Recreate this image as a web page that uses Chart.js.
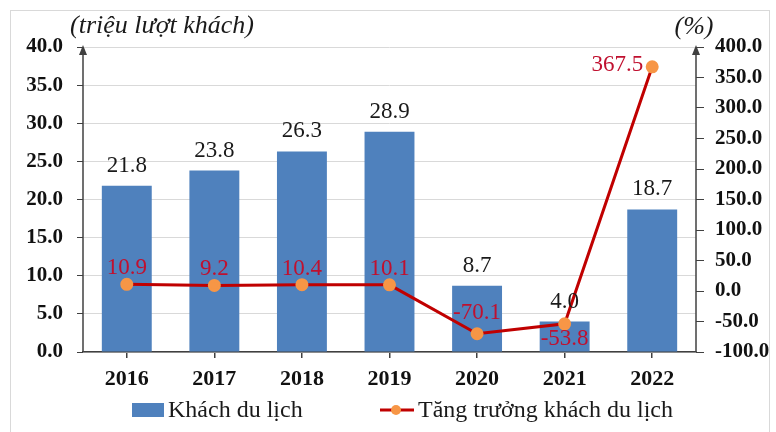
<!DOCTYPE html>
<html>
<head>
<meta charset="utf-8">
<script src="https://cdn.jsdelivr.net/npm/chart.js@4.4.1/dist/chart.umd.min.js"></script>
<style>
  body { margin: 0; background: #fff; }
  #wrap { position: relative; width: 776px; height: 432px; }
  #frame {
    position: absolute; left: 10px; top: 10px; width: 758px; height: 430px;
    border: 1px solid #d9d9d9;
  }
  canvas { position: absolute; left: 0; top: 0; }
</style>
</head>
<body>
<div id="wrap">
  <div id="frame"></div>
  <canvas id="touristChart" width="776" height="432"></canvas>
</div>
<script>
const years = ['2016', '2017', '2018', '2019', '2020', '2021', '2022'];
const visitors = [21.8, 23.8, 26.3, 28.9, 8.7, 4.0, 18.7];
const growth = [10.9, 9.2, 10.4, 10.1, -70.1, -53.8, 367.5];
// where each growth label sits relative to its point
const growthLabelSide = ['above', 'above', 'above', 'above', 'above', 'below', 'left'];

const FONT = "'Liberation Serif', 'Times New Roman', serif";
const BAR_COLOR = '#4f81bd';
const LINE_COLOR = '#c00000';
const POINT_COLOR = '#f79646';
const AXIS_COLOR = '#404040';

const valueLabels = {
  id: 'valueLabels',
  afterDatasetsDraw(chart) {
    const ctx = chart.ctx;
    ctx.save();
    ctx.font = '23px ' + FONT;
    ctx.textBaseline = 'alphabetic';

    // bar labels (dataset 1 = bars)
    ctx.fillStyle = '#1a1a1a';
    ctx.textAlign = 'center';
    chart.getDatasetMeta(1).data.forEach((bar, i) => {
      ctx.fillText(visitors[i].toFixed(1), bar.x, bar.y - 14);
    });

    // growth labels (dataset 0 = line)
    ctx.fillStyle = '#c0102f';
    chart.getDatasetMeta(0).data.forEach((pt, i) => {
      const txt = growth[i].toFixed(1);
      const side = growthLabelSide[i];
      if (side === 'left') {
        ctx.textAlign = 'right';
        ctx.fillText(txt, pt.x - 9, pt.y + 4);
      } else if (side === 'below') {
        ctx.textAlign = 'center';
        ctx.fillText(txt, pt.x, pt.y + 21);
      } else {
        ctx.textAlign = 'center';
        ctx.fillText(txt, pt.x, pt.y - (growth[i] < 0 ? 15 : 10));
      }
    });
    ctx.restore();
  }
};

// axis lines with arrow heads on both value axes
const axisArrows = {
  id: 'axisArrows',
  afterDraw(chart) {
    const ctx = chart.ctx;
    const a = chart.chartArea;
    ctx.save();
    ctx.strokeStyle = AXIS_COLOR;
    ctx.fillStyle = AXIS_COLOR;
    ctx.lineWidth = 1.5;
    [a.left, a.right].forEach(x => {
      ctx.beginPath();
      ctx.moveTo(x, a.bottom);
      ctx.lineTo(x, a.top + 2);
      ctx.stroke();
      ctx.beginPath();
      ctx.moveTo(x, a.top - 2);
      ctx.lineTo(x - 4, a.top + 8);
      ctx.lineTo(x + 4, a.top + 8);
      ctx.closePath();
      ctx.fill();
    });
    ctx.restore();
  }
};

// axis unit titles + legend
const extras = {
  id: 'extras',
  afterDraw(chart) {
    const ctx = chart.ctx;
    const a = chart.chartArea;
    ctx.save();
    ctx.font = 'italic 26px ' + FONT;
    ctx.fillStyle = '#1a1a1a';
    ctx.textBaseline = 'alphabetic';
    ctx.textAlign = 'left';
    ctx.fillText('(triệu lượt khách)', 70, 33);
    ctx.textAlign = 'center';
    ctx.fillText('(%)', a.right - 2, 34);

    // legend
    const ly = 410;
    ctx.font = '24px ' + FONT;
    ctx.textBaseline = 'middle';
    ctx.textAlign = 'left';
    ctx.fillStyle = BAR_COLOR;
    ctx.fillRect(132, ly - 7, 32, 14);
    ctx.fillStyle = '#1a1a1a';
    ctx.fillText(chart.data.datasets[1].label, 168, ly + 1);

    ctx.strokeStyle = LINE_COLOR;
    ctx.lineWidth = 3;
    ctx.beginPath(); ctx.moveTo(380, ly); ctx.lineTo(414, ly); ctx.stroke();
    ctx.fillStyle = POINT_COLOR;
    ctx.beginPath(); ctx.arc(396, ly, 5, 0, Math.PI * 2); ctx.fill();
    ctx.fillStyle = '#1a1a1a';
    ctx.fillText(chart.data.datasets[0].label, 418, ly + 1);
    ctx.restore();
  }
};

const chart = new Chart(document.getElementById('touristChart'), {
  data: {
    labels: years,
    datasets: [
      {
        type: 'line',
        label: 'Tăng trưởng khách du lịch',
        data: growth,
        yAxisID: 'y1',
        borderColor: LINE_COLOR,
        borderWidth: 3,
        pointRadius: 5,
        pointBackgroundColor: POINT_COLOR,
        pointBorderColor: POINT_COLOR,
        tension: 0,
        order: 0
      },
      {
        type: 'bar',
        label: 'Khách du lịch',
        data: visitors,
        yAxisID: 'y',
        backgroundColor: BAR_COLOR,
        barPercentage: 0.57,
        categoryPercentage: 1,
        order: 1
      }
    ]
  },
  plugins: [valueLabels, axisArrows, extras],
  options: {
    responsive: false,
    animation: false,
    layout: { padding: { top: 47, left: 0, right: 0, bottom: 36 } },
    plugins: {
      legend: { display: false },
      tooltip: { enabled: false }
    },
    scales: {
      x: {
        grid: {
          display: true,
          drawOnChartArea: false,
          offset: false,
          tickLength: 6,
          color: AXIS_COLOR,
          lineWidth: 1.5
        },
        border: { color: AXIS_COLOR, width: 1.5 },
        ticks: {
          color: '#111',
          font: { family: FONT, size: 22, weight: 'bold' },
          padding: 8
        },
        afterFit(scale) { scale.height = 44; }
      },
      y: {
        position: 'left',
        min: 0,
        max: 40,
        grid: { color: '#d9d9d9', tickColor: AXIS_COLOR, tickLength: 6 },
        border: { display: false },
        ticks: {
          stepSize: 5,
          color: '#111',
          font: { family: FONT, size: 21, weight: 'bold' },
          padding: 14,
          callback: v => v.toFixed(1)
        },
        afterFit(scale) { scale.width = 83; }
      },
      y1: {
        position: 'right',
        min: -100,
        max: 400,
        grid: { drawOnChartArea: false, tickColor: AXIS_COLOR, tickLength: 8 },
        border: { display: false },
        ticks: {
          stepSize: 50,
          color: '#111',
          font: { family: FONT, size: 21, weight: 'bold' },
          padding: 11,
          callback: v => v.toFixed(1)
        },
        afterFit(scale) { scale.width = 80; }
      }
    }
  }
});
</script>
</body>
</html>
